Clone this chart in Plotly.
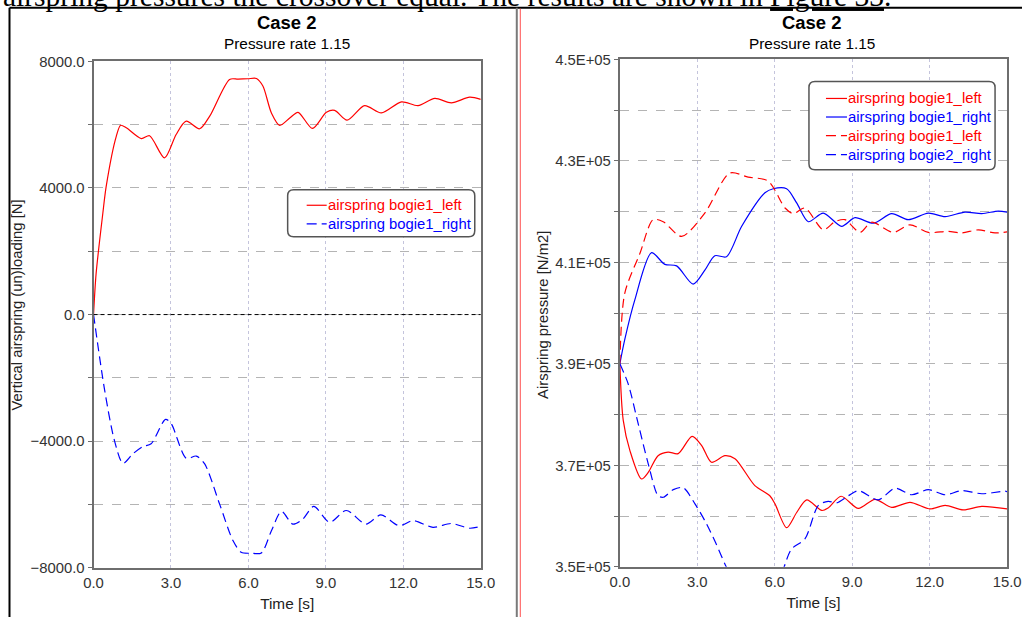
import plotly.graph_objects as go

# Empirical page-to-photo mapping measured on this renderer:
#   photo_x = SX * fig_x + OX ,  photo_y = SY * fig_y + OY
SX, OX = 0.9763, 10.5
SY, OY = 0.9717, 8.8
FW, FH = 1037, 627
FS = 1.0 / SX

# ---------------- data ----------------
left_red_t = [0, 0.1, 0.36, 0.49, 0.88, 1.05, 1.27, 1.85, 2.17, 2.75, 3.2, 3.59, 4.11, 4.5, 5.27, 5.6, 5.98, 6.31, 6.56, 6.89, 7.21, 7.6, 7.92, 8.48, 9.02, 9.34, 9.82, 10.5, 11.15, 11.93, 12.57, 13.22, 13.86, 14.57, 15.0]
left_red_v = [0, 1300, 3200, 4050, 5630, 5980, 5900, 5560, 5650, 4950, 5690, 6110, 5870, 6270, 7430, 7440, 7450, 7460, 7220, 6370, 5980, 6210, 6390, 5880, 6390, 6450, 6140, 6600, 6370, 6720, 6600, 6830, 6690, 6870, 6800]

left_blue_t = [0, 0.43, 0.81, 1.14, 1.52, 1.91, 2.23, 2.79, 3.01, 3.59, 3.98, 4.3, 4.88, 5.4, 5.72, 6.1, 6.5, 6.89, 7.28, 7.72, 8.11, 8.53, 9.15, 9.79, 10.55, 11.13, 11.84, 12.38, 13.15, 13.86, 14.57, 15.0]
left_blue_v = [0, -2390, -3980, -4700, -4400, -4170, -4080, -3310, -3450, -4540, -4470, -4710, -5980, -7140, -7510, -7540, -7530, -6830, -6220, -6620, -6460, -6060, -6560, -6190, -6620, -6330, -6670, -6510, -6720, -6600, -6750, -6690]

r_red_t = [0, 0.13, 0.39, 0.84, 1.10, 1.48, 1.87, 2.26, 2.80, 3.17, 3.55, 4.07, 4.46, 5.23, 5.81, 6.01, 6.46, 6.85, 7.24, 7.82, 8.07, 8.57, 9.24, 9.88, 10.53, 11.24, 12.02, 12.60, 13.31, 14.02, 15.0]
r_red_v = [390000, 378900, 372900, 367300, 368600, 371900, 372600, 372300, 375700, 373900, 370600, 371900, 371300, 366000, 364000, 362400, 357700, 360700, 363200, 361100, 361600, 363900, 361500, 363300, 361700, 362700, 361400, 362100, 361200, 361900, 361400]

r_blue_t = [0, 0.2, 0.58, 1.23, 1.74, 2.20, 2.84, 3.3, 3.68, 4.13, 4.72, 5.62, 5.94, 6.46, 6.85, 7.30, 7.88, 8.59, 9.11, 9.82, 10.53, 11.17, 11.95, 12.60, 13.37, 14.02, 14.66, 15.0]
r_blue_v = [390000, 395000, 402600, 411900, 409600, 409300, 405700, 408500, 411300, 411100, 417100, 423700, 424500, 424500, 421700, 418000, 419700, 417100, 418800, 417700, 419600, 418400, 419700, 419000, 419900, 419600, 420100, 419900]

r_red_d_t = [0, 0.19, 0.78, 1.29, 1.68, 2.39, 3.29, 4.26, 4.97, 5.75, 6.40, 6.72, 7.17, 7.88, 8.33, 8.72, 9.30, 9.75, 10.59, 11.24, 11.95, 12.72, 13.24, 13.89, 14.53, 15.0]
r_red_d_v = [390000, 403900, 411800, 418400, 418000, 415100, 419700, 427600, 426800, 426000, 420700, 419600, 420700, 416400, 418000, 418400, 415900, 417900, 415900, 417400, 415900, 416100, 415800, 416400, 415800, 416000]

r_blue_d_t = [0, 0.32, 0.71, 1.10, 1.48, 1.68, 2.07, 2.45, 2.91, 3.29, 3.68, 4.20, 4.8, 5.4, 6.0, 6.33, 6.65, 7.17, 7.69, 8.07, 8.40, 8.85, 9.24, 10.01, 10.66, 11.30, 11.95, 12.60, 13.24, 14.02, 14.92, 15.0]
r_blue_d_v = [390000, 386100, 378200, 370300, 364000, 363700, 365200, 365600, 362400, 359100, 355100, 349200, 344500, 342500, 344800, 349500, 353500, 355500, 362100, 362900, 362600, 364000, 365000, 363200, 365500, 364200, 365200, 364200, 365000, 364400, 364900, 364800]

x_ticks = [0, 3, 6, 9, 12, 15]
left_y_ticks = [-8000, -4000, 0, 4000, 8000]
right_y_ticks = [350000, 370000, 390000, 410000, 430000, 450000]
right_y_text = ["3.5E+05", "3.7E+05", "3.9E+05", "4.1E+05", "4.3E+05", "4.5E+05"]

left_legend_names = ["airspring bogie1_left", "airspring bogie1_right"]
right_legend_names = ["airspring bogie1_left", "airspring bogie1_right",
                      "airspring bogie1_left", "airspring bogie2_right"]

RED = "#ff0000"
BLUE = "#0000ff"
FONT = "Liberation Sans, Arial, sans-serif"
DASH = "9px,5px"

def px_x(x):
    return ((x - OX) / SX) / FW

def px_y(y):
    return 1 - ((y - OY) / SY) / FH

def fs(s):
    return round(s * FS, 2)

fig = go.Figure()

left_series = [(left_red_t, left_red_v, RED, "solid", left_legend_names[0]),
               (left_blue_t, left_blue_v, BLUE, DASH, left_legend_names[1])]
right_series = [(r_red_t, r_red_v, RED, "solid", right_legend_names[0]),
                (r_blue_t, r_blue_v, BLUE, "solid", right_legend_names[1]),
                (r_red_d_t, r_red_d_v, RED, DASH, right_legend_names[2]),
                (r_blue_d_t, r_blue_d_v, BLUE, DASH, right_legend_names[3])]

for t, v, c, d, n in left_series:
    fig.add_trace(go.Scatter(x=t, y=v, mode="lines", xaxis="x", yaxis="y", name=n, showlegend=False,
                             line=dict(color=c, width=1.2, dash=d, shape="spline", smoothing=0.8)))
for t, v, c, d, n in right_series:
    fig.add_trace(go.Scatter(x=t, y=v, mode="lines", xaxis="x2", yaxis="y2", name=n, showlegend=False,
                             line=dict(color=c, width=1.2, dash=d, shape="spline", smoothing=0.8)))

AX_LINE = "#6e6e6e"
VGRID = "#c4c4dc"
HGRID = "#b4b4b4"
tickfont = dict(family=FONT, size=fs(14.5), color="#333333")

def xaxis(domain, anchor):
    return dict(domain=domain, anchor=anchor, range=[0, 15], tickvals=x_ticks, tickformat=".1f",
                showline=True, linecolor=AX_LINE, linewidth=2, mirror=True,
                showgrid=True, gridcolor=VGRID, griddash="dot", gridwidth=1,
                ticks="", tickfont=tickfont, zeroline=False, fixedrange=True,
                title=dict(text="Time [s]", font=dict(family=FONT, size=fs(15), color="#222222"), standoff=9))

fig.update_layout(
    width=FW, height=FH,
    margin=dict(l=0, r=0, t=0, b=0),
    paper_bgcolor="white", plot_bgcolor="white",
    hovermode=False, showlegend=False,
    xaxis=xaxis([px_x(94), px_x(481)], "y"),
    xaxis2=xaxis([px_x(620), px_x(1007)], "y2"),
    yaxis=dict(domain=[px_y(567), px_y(62)], anchor="x", range=[-8000, 8000],
               tickvals=left_y_ticks, tickformat=".1f",
               showline=True, linecolor=AX_LINE, linewidth=2, mirror=True,
               showgrid=True, gridcolor=HGRID, griddash="dash", gridwidth=1,
               ticks="outside", ticklen=4, tickcolor=AX_LINE, tickfont=tickfont,
               minor=dict(tickvals=[-6000, -2000, 2000, 6000], ticks="outside", ticklen=4,
                          tickcolor=AX_LINE, showgrid=True, gridcolor=HGRID, griddash="dash"),
               zeroline=False, fixedrange=True),
    yaxis2=dict(domain=[px_y(566), px_y(60)], anchor="x2", range=[350000, 450000],
                tickvals=right_y_ticks, ticktext=right_y_text,
                showline=True, linecolor=AX_LINE, linewidth=2, mirror=True,
                showgrid=True, gridcolor=HGRID, griddash="dash", gridwidth=1,
                ticks="outside", ticklen=4, tickcolor=AX_LINE, tickfont=tickfont,
                minor=dict(tickvals=[360000, 380000, 400000, 420000, 440000], ticks="outside", ticklen=4,
                           tickcolor=AX_LINE, showgrid=True, gridcolor=HGRID, griddash="dash"),
                zeroline=False, fixedrange=True),
)

def rounded_rect(x0, y0, x1, y1, r=6):
    X = lambda v: px_x(v)
    Y = lambda v: px_y(v)
    return (f"M {X(x0+r)} {Y(y0)} L {X(x1-r)} {Y(y0)} Q {X(x1)} {Y(y0)} {X(x1)} {Y(y0+r)} "
            f"L {X(x1)} {Y(y1-r)} Q {X(x1)} {Y(y1)} {X(x1-r)} {Y(y1)} "
            f"L {X(x0+r)} {Y(y1)} Q {X(x0)} {Y(y1)} {X(x0)} {Y(y1-r)} "
            f"L {X(x0)} {Y(y0+r)} Q {X(x0)} {Y(y0)} {X(x0+r)} {Y(y0)} Z")

TOP = 8.5
LEFT = 10
shapes = [
    dict(type="line", xref="x", yref="y", x0=0, x1=15, y0=0, y1=0,
         line=dict(color="black", width=1, dash="4px,3px"), layer="above"),
    dict(type="path", xref="paper", yref="paper", path=rounded_rect(288, 190, 475, 237),
         line=dict(color="#555555", width=1.5), fillcolor="white", layer="above"),
    dict(type="path", xref="paper", yref="paper", path=rounded_rect(809, 82, 995, 170),
         line=dict(color="#555555", width=1.5), fillcolor="white", layer="above"),
    dict(type="line", xref="paper", yref="paper", x0=px_x(LEFT), x1=1, y0=px_y(TOP), y1=px_y(TOP),
         line=dict(color="black", width=2)),
    dict(type="line", xref="paper", yref="paper", x0=px_x(LEFT), x1=px_x(LEFT), y0=px_y(TOP), y1=0,
         line=dict(color="black", width=2)),
    dict(type="line", xref="paper", yref="paper", x0=px_x(517), x1=px_x(517), y0=px_y(TOP), y1=0,
         line=dict(color="#7a7a7a", width=2)),
    dict(type="line", xref="paper", yref="paper", x0=px_x(520.5), x1=px_x(520.5), y0=px_y(TOP + 1), y1=0,
         line=dict(color="#ff5050", width=1)),
]

ann = []
def add_legend(series, sx0, sx1, ys):
    for (t, v, c, d, n), yy in zip(series, ys):
        shapes.append(dict(type="line", xref="paper", yref="paper",
                           x0=px_x(sx0), x1=px_x(sx1), y0=px_y(yy), y1=px_y(yy),
                           line=dict(color=c, width=1.2, dash=("10px,5px" if d != "solid" else "solid")),
                           layer="above"))
        ann.append(dict(text=n, x=px_x(sx1 - 1), y=px_y(yy), xref="paper", yref="paper",
                        showarrow=False, xanchor="left", yanchor="middle",
                        font=dict(family=FONT, size=fs(14.5), color=c)))

add_legend(left_series, 307, 327, [205.5, 224])
add_legend(right_series, 826, 847, [99, 117.5, 136, 155])

for cx in (287, 812):
    ann.append(dict(text="<b>Case 2</b>", x=px_x(cx), y=px_y(23), xref="paper", yref="paper",
                    showarrow=False, font=dict(family=FONT, size=fs(18), color="black"),
                    xanchor="center", yanchor="middle"))
    ann.append(dict(text="Pressure rate 1.15", x=px_x(cx), y=px_y(44), xref="paper", yref="paper",
                    showarrow=False, font=dict(family=FONT, size=fs(15), color="black"),
                    xanchor="center", yanchor="middle"))
ann.append(dict(text="Vertical airspring (un)loading [N]", x=px_x(18), y=px_y(305), xref="paper", yref="paper",
                showarrow=False, textangle=-90, font=dict(family=FONT, size=fs(14.5), color="#222222"),
                xanchor="center", yanchor="middle"))
ann.append(dict(text="Airspring pressure [N/m2]", x=px_x(543), y=px_y(315), xref="paper", yref="paper",
                showarrow=False, textangle=-90, font=dict(family=FONT, size=fs(14.5), color="#222222"),
                xanchor="center", yanchor="middle"))
ann.append(dict(text="airspring pressures the crossover equal. The results are shown in <u>Figure 33</u>.",
                x=px_x(2), y=px_y(-3), xref="paper", yref="paper", showarrow=False,
                font=dict(family="Liberation Serif, Times New Roman, serif", size=fs(28.8), color="black"),
                xanchor="left", yanchor="middle"))

fig.update_layout(shapes=shapes, annotations=ann)

fig.write_html("out.html")
